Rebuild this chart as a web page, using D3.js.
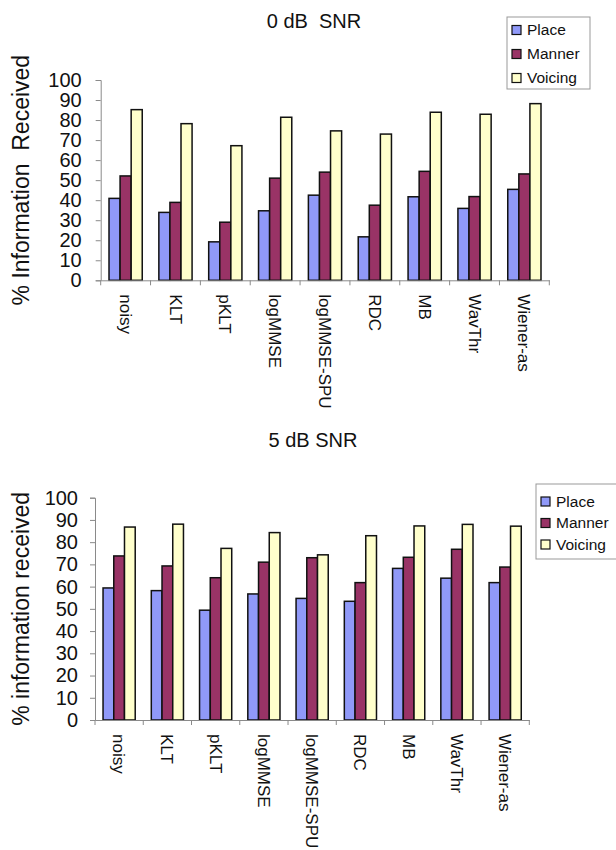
<!DOCTYPE html>
<html>
<head>
<meta charset="utf-8">
<script src="https://cdn.jsdelivr.net/npm/d3@7/dist/d3.min.js"></script>
<style>
  html, body { margin: 0; padding: 0; background: #fff; }
  svg { display: block; font-family: "Liberation Sans", Arial, Helvetica, sans-serif; }
</style>
</head>
<body>
<svg id="chart" width="616" height="850"></svg>
<script>
// Consonant feature transmission per enhancement algorithm
const categories = ["noisy", "KLT", "pKLT", "logMMSE", "logMMSE-SPU", "RDC", "MB", "WavThr", "Wiener-as"];
const seriesNames = ["Place", "Manner", "Voicing"];
const seriesColors = ["#9099F8", "#993366", "#FFFFCC"];

// 0 dB SNR
const place0   = [40.9, 33.9, 19.2, 34.7, 42.5, 21.7, 41.7, 35.9, 45.4];
const manner0  = [52.1, 38.9, 29.0, 51.0, 54.0, 37.5, 54.4, 41.8, 53.1];
const voicing0 = [85.2, 78.2, 67.2, 81.4, 74.6, 73.0, 83.9, 82.9, 88.2];

// 5 dB SNR
const place5   = [59.4, 58.2, 49.4, 56.7, 54.7, 53.4, 68.2, 63.8, 61.8];
const manner5  = [73.8, 69.3, 64.0, 71.0, 73.0, 61.8, 73.2, 76.8, 68.8];
const voicing5 = [86.8, 88.1, 77.2, 84.3, 74.3, 82.9, 87.3, 88.0, 87.2];

const yTicks = [0, 10, 20, 30, 40, 50, 60, 70, 80, 90, 100];

const svg = d3.select("#chart");

function drawPanel(cfg) {
  const g = svg.append("g");
  const x = d3.scaleBand().domain(categories).range([cfg.left, cfg.right]).paddingInner(0).paddingOuter(0);
  const xs = d3.scaleBand().domain(seriesNames).range([0, x.bandwidth()]).paddingInner(0).paddingOuter(0.75);
  const y = d3.scaleLinear().domain([0, 100]).range([cfg.bottom, cfg.top]);
  const color = d3.scaleOrdinal().domain(seriesNames).range(seriesColors);

  // title
  g.append("text")
    .attr("x", cfg.titleX).attr("y", cfg.titleY)
    .attr("text-anchor", "middle")
    .style("font-size", "20px").style("white-space", "pre")
    .attr("xml:space", "preserve")
    .attr("fill", "#111")
    .text(cfg.title);

  // y axis
  const yAxis = g.append("g")
    .attr("transform", `translate(${cfg.left},0)`)
    .call(d3.axisLeft(y).tickValues(yTicks).tickSize(5).tickPadding(cfg.tickPad).tickFormat(d3.format("d")));
  yAxis.select(".domain").attr("stroke", "#8a8a8a");
  yAxis.selectAll(".tick line").attr("stroke", "#8a8a8a");
  yAxis.selectAll(".tick text").style("font-size", "20px").attr("fill", "#111");

  // y axis title
  g.append("text")
    .attr("transform", `translate(${cfg.yTitleX},${(cfg.top + cfg.bottom) / 2}) rotate(-90)`)
    .attr("text-anchor", "middle")
    .attr("xml:space", "preserve")
    .style("white-space", "pre")
    .style("font-size", "23px")
    .attr("fill", "#111")
    .text(cfg.yTitle);

  // bars
  const rows = categories.map((c, i) => ({ cat: c, vals: cfg.series.map((s, j) => ({ name: seriesNames[j], v: s[i] })) }));
  const groups = g.append("g").selectAll("g").data(rows).join("g")
    .attr("transform", d => `translate(${x(d.cat)},0)`);
  groups.selectAll("rect").data(d => d.vals).join("rect")
    .attr("x", d => xs(d.name))
    .attr("y", d => y(d.v))
    .attr("width", xs.bandwidth())
    .attr("height", d => y(0) - y(d.v))
    .attr("fill", d => color(d.name))
    .attr("stroke", "#111")
    .attr("stroke-width", 1.5);

  // x axis with boundary ticks and rotated labels
  const xAxis = g.append("g")
    .attr("transform", `translate(0,${cfg.bottom})`)
    .call(d3.axisBottom(x).tickSize(0).tickPadding(0));
  xAxis.select(".domain").attr("stroke", "#8a8a8a");
  xAxis.selectAll(".tick text")
    .attr("transform", "rotate(90)")
    .attr("x", 14).attr("y", 0).attr("dy", "0.35em")
    .style("text-anchor", "start")
    .style("font-size", "17px")
    .attr("fill", "#111");
  const bounds = categories.map(c => x(c)).concat([x.range()[1]]);
  xAxis.append("g").selectAll("line").data(bounds).join("line")
    .attr("x1", d => d).attr("x2", d => d)
    .attr("y1", 0).attr("y2", 5)
    .attr("stroke", "#8a8a8a");

  // legend
  const lg = g.append("g").attr("transform", `translate(${cfg.legend.x},${cfg.legend.y})`);
  lg.append("rect")
    .attr("x", 0).attr("y", 0)
    .attr("width", cfg.legend.w).attr("height", cfg.legend.h)
    .attr("fill", "#fff").attr("stroke", "#999").attr("stroke-width", 1);
  const items = lg.selectAll("g.item").data(seriesNames).join("g")
    .attr("class", "item")
    .attr("transform", (d, i) => `translate(0,${cfg.legend.first + i * cfg.legend.step})`);
  items.append("rect")
    .attr("x", cfg.legend.sw).attr("y", -4.5)
    .attr("width", 9).attr("height", 9)
    .attr("fill", d => color(d)).attr("stroke", "#111").attr("stroke-width", 1.2);
  items.append("text")
    .attr("x", cfg.legend.sw + 15).attr("y", 0).attr("dy", "0.35em")
    .style("font-size", "15.5px")
    .attr("fill", "#111")
    .text(d => d);
}

drawPanel({
  title: "0 dB  SNR", titleX: 314, titleY: 28,
  yTitle: "% Information  Received", yTitleX: 29,
  left: 100.7, right: 549.3, top: 80, bottom: 280.3, tickPad: 14,
  series: [place0, manner0, voicing0],
  legend: { x: 507, y: 17, w: 83, h: 72, first: 13, step: 24, sw: 5 }
});

drawPanel({
  title: "5 dB SNR", titleX: 313, titleY: 446.5,
  yTitle: "% information received", yTitleX: 29,
  left: 95, right: 529.3, top: 497.7, bottom: 720, tickPad: 12,
  series: [place5, manner5, voicing5],
  legend: { x: 536, y: 484, w: 90, h: 75, first: 17.5, step: 21.5, sw: 5 }
});
</script>
</body>
</html>
